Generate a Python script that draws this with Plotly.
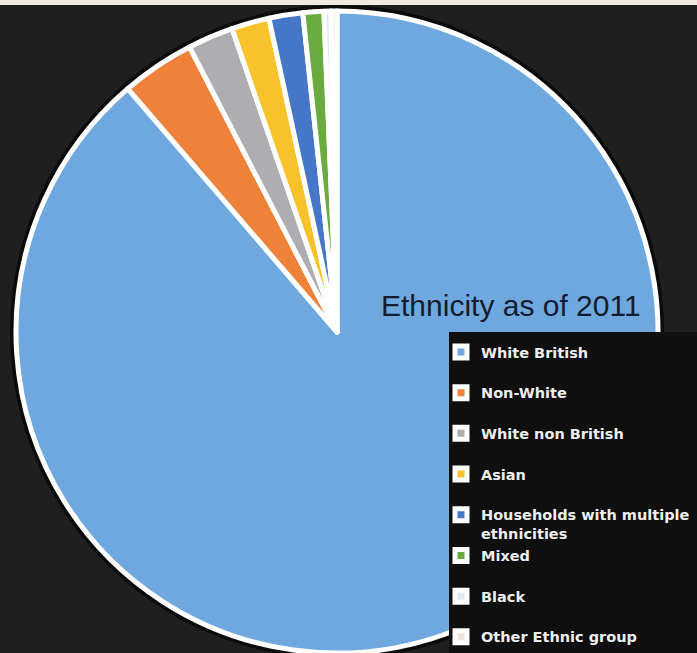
import plotly.graph_objects as go

# Data (percent of population, 2011)
categories = [
    "White British",
    "Non-White",
    "White non British",
    "Asian",
    "Households with multiple<br>ethnicities",
    "Mixed",
    "Black",
    "Other Ethnic group",
]
values = [88.7, 3.7, 2.3, 1.9, 1.7, 1.05, 0.35, 0.3]
colors = ["#6ea8df", "#ef823a", "#aeaeb2", "#f8c22a", "#4676c8", "#69ab3e", "#dde8f4", "#efe6da"]

W, H = 697, 653
cx, cy, r = 337, 332, 321  # pie centre / radius in px (from top-left)

# legend labels padded to two lines to reproduce the item pitch (not the last one)
legend_labels = [
    c if ("<br>" in c or i == len(categories) - 1) else c + "<br>\u00a0"
    for i, c in enumerate(categories)
]

fig = go.Figure(
    go.Pie(
        labels=legend_labels,
        values=values,
        sort=False,
        direction="clockwise",
        rotation=0,
        textinfo="none",
        hoverinfo="label+percent",
        marker=dict(colors=colors, line=dict(color="white", width=5)),
        domain=dict(x=[(cx - r) / W, (cx + r) / W], y=[0, (H - cy + r) / H]),
    )
)

fig.update_layout(
    width=W,
    height=H,
    margin=dict(l=0, r=0, t=0, b=0, autoexpand=False),
    paper_bgcolor="#1f1f1f",
    plot_bgcolor="#1f1f1f",
    showlegend=True,
    legend=dict(
        x=441 / W,
        y=(H - 336) / H,
        xanchor="left",
        yanchor="top",
        bgcolor="rgba(0,0,0,0)",
        valign="top",
        font=dict(family="DejaVu Sans", size=14.5, color="#eeeeee", weight="bold"),
    ),
    shapes=[
        # dark shadow ring behind the pie
        dict(type="circle", xref="paper", yref="paper", layer="below",
             x0=(cx - r - 6) / W, x1=(cx + r + 6) / W,
             y0=(H - cy - r - 6) / H, y1=(H - cy + r + 6) / H,
             fillcolor="#0b0b0b", line=dict(width=0)),
        # black legend box
        dict(type="rect", xref="paper", yref="paper", layer="above",
             x0=449 / W, x1=1.02, y0=-0.02, y1=(H - 332) / H,
             fillcolor="#0f0f0f", line=dict(width=0)),
        # light strip along the top edge
        dict(type="rect", xref="paper", yref="paper", layer="above",
             x0=-0.01, x1=1.01, y0=(H - 5) / H, y1=1.01,
             fillcolor="#efebe3", line=dict(width=0)),
    ],
    annotations=[
        dict(text="Ethnicity as of 2011", xref="paper", yref="paper",
             x=511 / W, y=(H - 305) / H, xanchor="center", yanchor="middle",
             showarrow=False,
             font=dict(family="Liberation Sans, Arial", size=30, color="#141c30")),
    ],
)

fig.write_html(
    "out.html",
    config={"displayModeBar": False},
    post_script="document.body.style.margin='0';",
)
